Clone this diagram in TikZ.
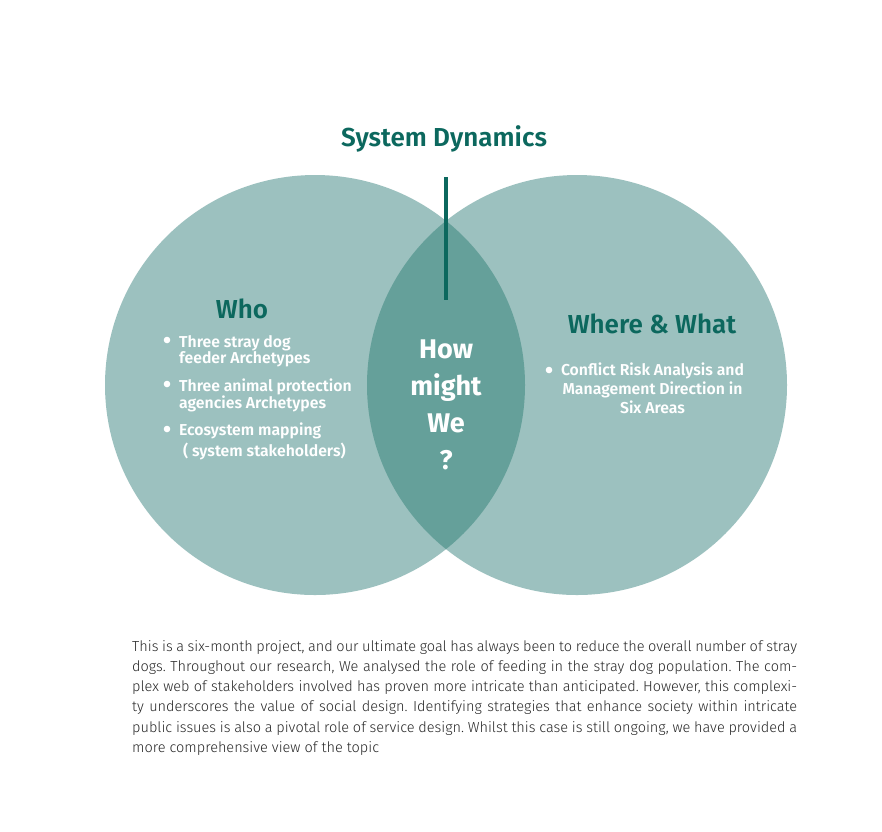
\documentclass[tikz,border=0pt]{standalone}
\usepackage{fontspec}
\setmainfont{Fira Sans}
\newfontfamily\headfont{Fira Sans SemiBold}
\newfontfamily\bodyfont{Fira Sans Light}
\usetikzlibrary{positioning}
\definecolor{venn}{RGB}{156,193,191}
\definecolor{lens}{RGB}{101,160,154}
\definecolor{ink}{RGB}{12,104,94}
\definecolor{prose}{RGB}{40,40,40}

\begin{document}
\begin{tikzpicture}[x = 1pt, y = -1pt,
    setdisc/.style = {circle, fill = venn, minimum size = 420pt, inner sep = 0pt},
    heading/.style = {anchor = base, inner sep = 0pt, text = ink, font = \headfont\fontsize{26}{30}\selectfont},
    itemtext/.style = {anchor = base west, inner sep = 0pt, text = white, font = \headfont\fontsize{15.8}{16}\selectfont},
    dot/.style = {white, radius = 3.3pt}]
                          \useasboundingbox (0,0) rectangle (882,831);
                          \fill [white] (0,0) rectangle (882,831);
                          % the two sets and their overlap
                          \node (who set) [setdisc] at (315,385) {};
                          \node (where set) [setdisc] at (577,385) {};
                          \begin{scope}
                            \clip (who set.center) circle [radius = 210pt];
                            \fill [lens] (where set.center) circle [radius = 210pt];
                          \end{scope}
                          \node (title) [heading] at (444,146) {System Dynamics};
                          \coordinate (stem top) at (446,177);
                          \coordinate (stem end) at (446,300);
                          \draw [ink, line width = 4pt] (stem top) -- (stem end);
                          \node (how) [anchor = base, inner sep = 0pt, text = white, font = \bfseries\fontsize{27}{37}\selectfont]
                            at (446,358) {\parbox[t]{120pt}{\centering How\\ might\\ We\\ ?}};
                          % left set
                          \node (who) [heading] at (242,318) {Who};
                          \fill [dot] (167,340) circle;
                          \node (feeder) [itemtext] at (179,347) {\parbox[t]{200pt}{Three stray dog\\ feeder Archetypes}};
                          \fill [dot] (167,384) circle;
                          \node (agency) [itemtext] at (179,391) {\parbox[t]{200pt}{Three animal protection\\ agencies Archetypes}};
                          \fill [dot] (167,429) circle;
                          \node (ecomap) [itemtext] at (179,435) {Ecosystem mapping};
                          \node (stakeholders) [itemtext] at (183,456) {( system stakeholders)};
                          % right set
                          \node (where) [heading] at (652,333) {Where \& What};
                          \fill [dot] (549,370) circle;
                          \node (conflict) [itemtext, anchor = base, font = \headfont\fontsize{15.8}{19}\selectfont] at (652.5,375)
                            {\parbox[t]{220pt}{\centering Conflict Risk Analysis and\\ Management Direction in\\ Six Areas}};
                          % summary
                          \node (summary) [anchor = base west, inner sep = 0pt, text = prose] at (132,651) {\parbox[t]{665pt}{%
                            \bodyfont\fontsize{14.5}{20.3}\selectfont\frenchspacing\hyphenpenalty=10000\tolerance=9999\emergencystretch=20pt
                            This is a six-month project, and our ultimate goal has always been to reduce the overall number of stray\linebreak
                            dogs. Throughout our research, We analysed the role of feeding in the stray dog population. The com-\linebreak
                            plex web of stakeholders involved has proven more intricate than anticipated. However, this complexi-\linebreak
                            ty underscores the value of social design. Identifying strategies that enhance society within intricate\linebreak
                            public issues is also a pivotal role of service design. Whilst this case is still ongoing, we have provided a\linebreak
                            more comprehensive view of the topic}};
                        \end{tikzpicture}
\end{document}
